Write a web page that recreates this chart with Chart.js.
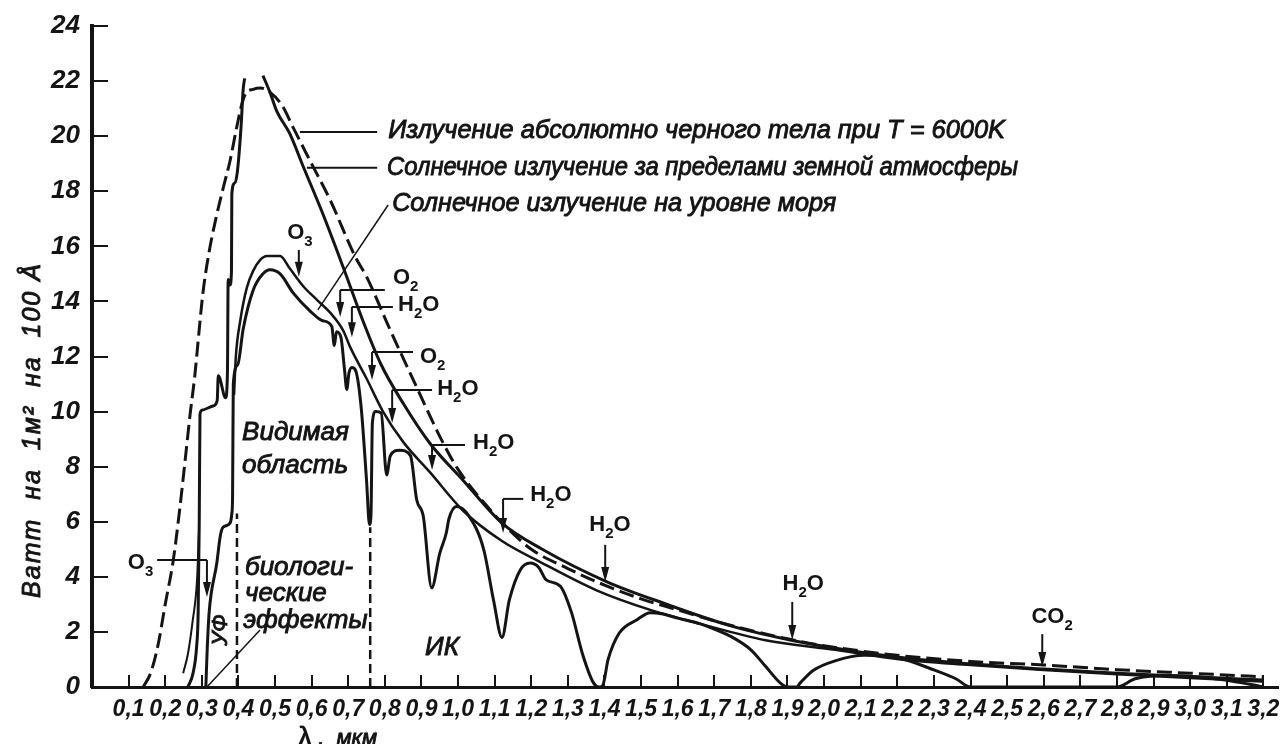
<!DOCTYPE html>
<html lang="ru">
<head>
<meta charset="utf-8">
<title>Спектр солнечного излучения</title>
<script src="https://cdn.jsdelivr.net/npm/chart.js@4.4.1/dist/chart.umd.min.js"></script>
<style>
  html, body { margin: 0; padding: 0; background: #fff; }
  #wrap { width: 1284px; height: 744px; position: relative; }
</style>
</head>
<body>
<div id="wrap"><canvas id="spectrum"></canvas></div>
<script>
// wavelength (мкм) / spectral irradiance pairs
const blackBody = [
  [0.14, 0], [0.16, 0.5], [0.18, 1.5], [0.20, 3.0], [0.222, 4.6], [0.24, 6.5], [0.255, 8.3],
  [0.268, 9.9], [0.28, 11.2], [0.303, 14.3], [0.32, 15.8], [0.34, 17.1], [0.36, 18.2],
  [0.377, 19.1], [0.395, 20.3], [0.41, 21.2], [0.42, 21.55], [0.44, 21.7], [0.46, 21.75],
  [0.486, 21.6], [0.52, 21.1], [0.55, 20.3], [0.596, 19.1], [0.65, 17.7], [0.72, 15.6],
  [0.75, 14.9], [0.81, 13.1], [0.89, 10.8], [0.95, 9.1], [1.0, 7.9], [1.09, 6.4], [1.14, 5.7],
  [1.2, 5.0], [1.3, 4.3], [1.4, 3.7], [1.5, 3.2], [1.6, 2.8], [1.7, 2.4], [1.8, 2.05],
  [1.9, 1.75], [2.0, 1.5], [2.2, 1.15], [2.4, 0.93], [2.6, 0.8], [2.8, 0.63], [3.0, 0.5], [3.2, 0.37]
];

// outside the atmosphere, ultraviolet rise
const sunUv = [
  [0.262, 0], [0.276, 0.5], [0.286, 1.5], [0.29, 2.7], [0.293, 6.0], [0.295, 9.9], [0.30, 10.05],
  [0.33, 10.2], [0.342, 10.4], [0.345, 11.3], [0.365, 10.5], [0.37, 11.4], [0.372, 14.8],
  [0.377, 14.6], [0.381, 15.1], [0.382, 17.9], [0.39, 18.3], [0.397, 18.7], [0.407, 20.3],
  [0.413, 21.7], [0.417, 22.1]
];

// outside the atmosphere, falling branch
const sunTop = [
  [0.467, 22.2], [0.486, 21.6], [0.505, 20.9], [0.54, 20.1], [0.577, 18.9], [0.63, 17.2],
  [0.686, 15.25], [0.74, 13.3], [0.79, 11.7], [0.85, 10.3], [0.923, 8.85], [1.014, 7.5],
  [1.12, 5.95], [1.23, 5.0], [1.41, 3.8], [1.56, 3.05], [1.75, 2.2], [1.91, 1.7], [2.12, 1.23],
  [2.3, 0.95], [2.6, 0.65], [2.8, 0.5], [3.0, 0.38], [3.2, 0.25]
];

const uvBranch = [[0.249, 0.5], [0.262, 1.2], [0.275, 2.4], [0.287, 3.9], [0.292, 5.6]];

// smooth sea-level envelope
const seaSmooth = [
  [0.388, 10.6], [0.393, 12.0], [0.405, 13.3], [0.423, 14.5], [0.44, 15.1], [0.459, 15.5],
  [0.478, 15.65], [0.514, 15.65], [0.54, 15.2], [0.577, 14.55], [0.615, 14.05], [0.65, 13.6],
  [0.686, 12.95], [0.705, 12.35], [0.75, 11.2], [0.795, 10.0], [0.85, 8.9], [0.923, 7.8],
  [1.014, 6.4], [1.12, 5.3], [1.23, 4.5], [1.38, 3.5], [1.525, 2.8], [1.66, 2.3], [1.84, 1.7],
  [2.03, 1.35], [2.21, 1.0], [2.4, 0.8], [2.6, 0.62], [2.8, 0.46], [3.0, 0.33], [3.2, 0.2]
];

// sea level with absorption bands
const seaLevel = [
  [0.311, 0], [0.315, 1.45], [0.32, 2.7], [0.341, 4.5], [0.35, 5.45], [0.358, 5.8], [0.377, 5.95],
  [0.382, 6.3], [0.384, 6.9], [0.386, 11.0], [0.398, 11.7], [0.413, 13.0], [0.44, 14.4],
  [0.467, 15.0], [0.486, 15.15], [0.514, 15.0], [0.55, 14.3], [0.596, 13.65], [0.63, 13.3],
  [0.655, 13.1], [0.662, 12.4], [0.668, 12.9], [0.68, 12.7], [0.69, 11.5], [0.696, 10.8],
  [0.702, 11.4], [0.71, 11.6], [0.72, 11.5], [0.735, 10.2], [0.75, 7.5], [0.758, 5.9],
  [0.762, 6.2], [0.766, 9.6], [0.775, 10.0], [0.79, 9.95], [0.805, 7.7], [0.815, 8.4],
  [0.84, 8.6], [0.87, 8.4], [0.887, 6.8], [0.905, 6.2], [0.928, 3.6], [0.95, 4.85],
  [0.968, 5.6], [0.975, 6.1], [0.996, 6.55], [1.03, 6.2], [1.07, 5.0], [1.097, 3.15],
  [1.12, 1.8], [1.14, 3.15], [1.17, 4.25], [1.197, 4.5], [1.22, 4.35], [1.24, 3.9],
  [1.28, 3.65], [1.31, 2.7], [1.34, 1.2], [1.37, 0.15], [1.385, 0], [1.395, 0.05], [1.41, 1.0],
  [1.44, 1.95], [1.49, 2.45], [1.525, 2.7], [1.56, 2.65], [1.6, 2.5], [1.66, 2.3], [1.7, 2.1],
  [1.75, 1.8], [1.8, 1.35], [1.84, 0.75], [1.88, 0.15], [1.9, 0], [1.925, 0], [1.935, 0.15],
  [1.97, 0.6], [2.03, 0.95], [2.11, 1.15], [2.18, 1.1], [2.22, 1.0], [2.3, 0.62], [2.36, 0.3],
  [2.4, 0], [2.8, 0], [2.85, 0.3], [2.94, 0.42], [3.03, 0.35], [3.12, 0.2], [3.17, 0.08], [3.2, 0]
];

// edges of the visible band
const visibleEdges = [0.396, 0.76];
const visibleEdgeTops = [6.3, 5.8];

const xTickLabels = ['0,1', '0,2', '0,3', '0,4', '0,5', '0,6', '0,7', '0,8', '0,9', '1,0', '1,1',
  '1,2', '1,3', '1,4', '1,5', '1,6', '1,7', '1,8', '1,9', '2,0', '2,1', '2,2', '2,3', '2,4',
  '2,5', '2,6', '2,7', '2,8', '2,9', '3,0', '3,1', '3,2'];
const yTickLabels = ['0', '2', '4', '6', '8', '10', '12', '14', '16', '18', '20', '22', '24'];

const INK = '#141414';
const SANS = "'Liberation Sans', Arial, sans-serif";

const toPoints = pairs => pairs.map(([x, y]) => ({ x, y }));
const tickValue = label => parseFloat(label.replace(',', '.'));

const curve = (pairs, width, dash) => ({
  data: toPoints(pairs),
  borderColor: INK,
  borderWidth: width,
  borderDash: dash || [],
  cubicInterpolationMode: 'monotone',
  pointRadius: 0,
  fill: false
});

const datasets = [
  curve(blackBody, 3, [15, 6]),
  curve(sunUv, 3),
  curve(sunTop, 3),
  curve(uvBranch, 2),
  curve(seaSmooth, 2.5),
  curve(seaLevel, 3)
];
visibleEdges.forEach((x, i) => {
  datasets.push({
    data: [{ x, y: 0 }, { x, y: visibleEdgeTops[i] }],
    borderColor: INK, borderWidth: 2.5, borderDash: [9, 5], pointRadius: 0, tension: 0
  });
});

// text and arrows, anchored in data coordinates; `end` is where a caption stops
const captions = [
  { text: 'Излучение абсолютно черного тела при T = 6000K', at: [0.809, 20.19], end: 2.494, from: [0.568, 20.15], to: [0.779, 20.15] },
  { text: 'Солнечное излучение за пределами земной атмосферы', at: [0.806, 18.85], end: 2.530, from: [0.587, 18.85], to: [0.779, 18.85] },
  { text: 'Солнечное излучение на уровне моря', at: [0.820, 17.54], end: 2.033, from: [0.617, 13.69], to: [0.809, 17.5], thin: true }
];
const regions = [
  { text: 'Видимая', at: [0.410, 9.22] },
  { text: 'область', at: [0.410, 8.02] },
  { text: 'биологи-', at: [0.418, 4.32] },
  { text: 'ческие', at: [0.418, 3.38] },
  { text: 'эффекты', at: [0.413, 2.40] },
  { text: 'ИК', at: [0.910, 1.42] }
];
const O3 = [['O', 0], ['3', 1]], O2 = [['O', 0], ['2', 1]];
const H2O = [['H', 0], ['2', 1], ['O', 0]], CO2 = [['CO', 0], ['2', 1]];
const absorbers = [
  { parts: O3, at: [0.568, 16.54], align: 'center', arrow: [0.565, 15.87, 14.9] },
  { parts: O2, at: [0.822, 14.92], bar: [0.678, 0.80, 14.41], arrow: [0.678, 14.41, 13.43] },
  { parts: H2O, at: [0.836, 13.94], bar: [0.71, 0.822, 13.8], arrow: [0.71, 13.8, 12.7] },
  { parts: O2, at: [0.896, 12.07], bar: [0.765, 0.877, 12.16], arrow: [0.765, 12.16, 11.15] },
  { parts: H2O, at: [0.943, 10.88], bar: [0.82, 0.929, 10.78], arrow: [0.82, 10.78, 9.59] },
  { parts: H2O, at: [1.041, 8.93], bar: [0.929, 1.019, 8.79], arrow: [0.929, 8.79, 7.88] },
  { parts: H2O, at: [1.197, 7.04], bar: [1.123, 1.178, 6.83], arrow: [1.123, 6.83, 5.59] },
  { parts: H2O, at: [1.415, 5.95], align: 'center', arrow: [1.402, 5.16, 3.81] },
  { parts: H2O, at: [1.943, 3.81], align: 'center', arrow: [1.913, 3.09, 1.71] },
  { parts: CO2, at: [2.623, 2.61], align: 'center', arrow: [2.596, 1.92, 0.73] },
  { parts: O3, at: [0.098, 4.58], bar: [0.178, 0.314, 4.61], arrow: [0.314, 4.61, 3.27] }
];

function drawArrow(ctx, x, y0, y1) {
  const head = 15, half = 4;
  ctx.lineWidth = 2;
  ctx.beginPath();
  ctx.moveTo(x, y0);
  ctx.lineTo(x, y1 - head + 2);
  ctx.stroke();
  ctx.beginPath();
  ctx.moveTo(x - half, y1 - head);
  ctx.lineTo(x + half, y1 - head);
  ctx.lineTo(x, y1);
  ctx.closePath();
  ctx.fill();
}

// filled text with a thin outline, closer to the heavy print of the labels
function inkText(ctx, text, x, y, weight) {
  ctx.fillText(text, x, y);
  ctx.lineWidth = weight || 0.9;
  ctx.strokeText(text, x, y);
}

function drawFormula(ctx, parts, x, yMid, align) {
  const big = 'bold 22px ' + SANS, small = 'bold 15px ' + SANS;
  let w = 0;
  parts.forEach(([t, sub]) => { ctx.font = sub ? small : big; w += ctx.measureText(t).width; });
  let cx = align === 'center' ? x - w / 2 : x;
  const base = yMid + 8;
  ctx.textAlign = 'left';
  ctx.textBaseline = 'alphabetic';
  parts.forEach(([t, sub]) => {
    ctx.font = sub ? small : big;
    ctx.fillText(t, cx, sub ? base + 7 : base);
    cx += ctx.measureText(t).width;
  });
}

const annotations = {
  id: 'annotations',
  afterDatasetsDraw(chart) {
    const { ctx, scales: { x, y } } = chart;
    const px = v => x.getPixelForValue(v);
    const py = v => y.getPixelForValue(v);
    ctx.save();
    ctx.strokeStyle = INK;
    ctx.fillStyle = INK;
    ctx.lineCap = 'butt';

    captions.forEach(c => {
      ctx.lineWidth = c.thin ? 1.5 : 2;
      ctx.beginPath();
      ctx.moveTo(px(c.from[0]), py(c.from[1]));
      ctx.lineTo(px(c.to[0]), py(c.to[1]));
      ctx.stroke();
      ctx.font = 'italic 25.5px ' + SANS;
      ctx.textAlign = 'left';
      ctx.textBaseline = 'middle';
      const x0 = px(c.at[0]);
      const squeeze = (px(c.end) - x0) / ctx.measureText(c.text).width;
      ctx.save();
      ctx.translate(x0, py(c.at[1]));
      ctx.scale(squeeze, 1);
      inkText(ctx, c.text, 0, 0);
      ctx.restore();
    });

    ctx.font = 'italic 26px ' + SANS;
    ctx.textAlign = 'left';
    ctx.textBaseline = 'middle';
    regions.forEach(r => inkText(ctx, r.text, px(r.at[0]), py(r.at[1])));

    // УФ, written upwards
    ctx.save();
    ctx.translate(px(0.352), py(2.07));
    ctx.rotate(-Math.PI / 2);
    ctx.textAlign = 'center';
    ctx.font = 'italic 22px ' + SANS;
    inkText(ctx, 'УФ', 0, 0);
    ctx.restore();

    // leader from the biological-effects note down to the ultraviolet
    ctx.lineWidth = 1.5;
    ctx.beginPath();
    ctx.moveTo(px(0.314), py(0));
    ctx.lineTo(px(0.459), py(2.07));
    ctx.stroke();

    absorbers.forEach(a => {
      if (a.bar) {
        ctx.lineWidth = 2;
        ctx.beginPath();
        ctx.moveTo(px(a.bar[0]), py(a.bar[2]));
        ctx.lineTo(px(a.bar[1]), py(a.bar[2]));
        ctx.stroke();
      }
      drawArrow(ctx, px(a.arrow[0]), py(a.arrow[1]), py(a.arrow[2]));
      drawFormula(ctx, a.parts, px(a.at[0]), py(a.at[1]), a.align);
    });

    // axis titles
    ctx.save();
    ctx.translate(x.left - 59, py(9.33));
    ctx.rotate(-Math.PI / 2);
    ctx.textAlign = 'center';
    ctx.textBaseline = 'middle';
    ctx.font = 'italic 25px ' + SANS;
    ctx.letterSpacing = '2px';
    inkText(ctx, 'Ватт  на  1м²  на  100 Å', 0, 0);
    ctx.restore();

    ctx.textAlign = 'left';
    ctx.textBaseline = 'alphabetic';
    ctx.font = 'bold 25px ' + SANS;
    const lx = px(0.563), ly = y.bottom + 58;
    ctx.fillText('λ', lx, ly);
    const lw = ctx.measureText('λ').width;
    ctx.font = 'italic 22px ' + SANS;
    inkText(ctx, ' ,  мкм', lx + lw, ly);
    ctx.restore();
  }
};

new Chart(document.getElementById('spectrum'), {
  type: 'line',
  data: { datasets },
  options: {
    responsive: true,
    maintainAspectRatio: false,
    animation: false,
    layout: { padding: { top: 26, right: 6, left: 0, bottom: 0 } },
    plugins: { legend: { display: false }, tooltip: { enabled: false } },
    scales: {
      x: {
        type: 'linear',
        min: 0,
        max: 3.24,
        afterBuildTicks: s => { s.ticks = xTickLabels.map(l => ({ value: tickValue(l) })); },
        afterFit: s => { s.height = 57; s.paddingLeft = 0; s.paddingRight = 0; },
        border: { display: true, color: INK, width: 3 },
        grid: { drawOnChartArea: false, drawTicks: true, tickLength: -12, color: INK, lineWidth: 2 },
        ticks: {
          autoSkip: false, maxRotation: 0, minRotation: 0, padding: 21, color: INK,
          font: { family: SANS, size: 23, style: 'italic', weight: 'bold' },
          callback: v => xTickLabels.find(l => Math.abs(tickValue(l) - v) < 1e-6) || ''
        }
      },
      y: {
        min: 0,
        max: 24,
        afterBuildTicks: s => { s.ticks = yTickLabels.map(l => ({ value: Number(l) })); },
        afterFit: s => { s.width = 92; s.paddingTop = 0; s.paddingBottom = 0; },
        border: { display: true, color: INK, width: 4 },
        grid: { drawOnChartArea: false, drawTicks: true, tickLength: -16, color: INK, lineWidth: 2 },
        ticks: {
          padding: 28, color: INK,
          font: { family: SANS, size: 26, style: 'italic', weight: 'bold' },
          callback: v => yTickLabels.find(l => Number(l) === v) || ''
        }
      }
    }
  },
  plugins: [annotations]
});
</script>
</body>
</html>
